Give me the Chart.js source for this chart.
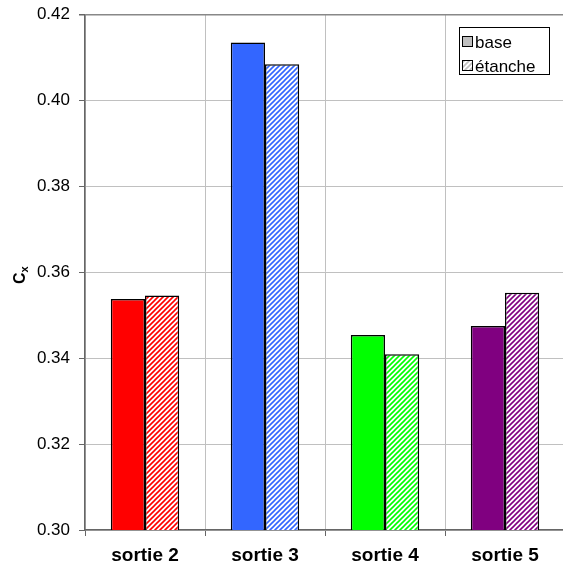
<!DOCTYPE html>
<html>
<head>
<meta charset="utf-8">
<script src="https://cdn.jsdelivr.net/npm/chart.js@4"></script>
<style>
  html, body { margin: 0; padding: 0; background: #fff; overflow: hidden; }
  #wrap { width: 563px; height: 574px; overflow: hidden; }
</style>
</head>
<body>
<div id="wrap"><canvas id="chart" width="567" height="574"></canvas></div>
<script>
// Cx per sortie, base vs étanche
const categories = ["sortie 2", "sortie 3", "sortie 4", "sortie 5"];
const baseValues = [0.3538, 0.4135, 0.3454, 0.3475];
const etancheValues = [0.3546, 0.4084, 0.3409, 0.3552];
const barColors = ["#ff0000", "#3366ff", "#00ff00", "#800080"];
const yTickLabels = ["0.30", "0.32", "0.34", "0.36", "0.38", "0.40", "0.42"];
const seriesNames = ["base", "étanche"];

const FONT = "'Liberation Sans', Arial, sans-serif";

function hatch(color) {
  const c = document.createElement("canvas");
  c.width = 5; c.height = 5;
  const g = c.getContext("2d");
  g.fillStyle = "#fff";
  g.fillRect(0, 0, 5, 5);
  g.strokeStyle = color;
  g.lineWidth = 1.6;
  g.beginPath();
  g.moveTo(-1, 6); g.lineTo(6, -1);
  g.moveTo(-1, 1); g.lineTo(1, -1);
  g.moveTo(4, 6); g.lineTo(6, 4);
  g.stroke();
  return g.createPattern(c, "repeat");
}

// legend box drawn inside the plot, top right
const boxLegend = {
  id: "boxLegend",
  afterDraw(chart) {
    const ctx = chart.ctx;
    ctx.save();
    ctx.fillStyle = "#fff";
    ctx.fillRect(459.5, 27.5, 90, 47);
    ctx.strokeStyle = "#000";
    ctx.lineWidth = 1;
    ctx.strokeRect(459.5, 27.5, 90, 47);
    const fills = ["#c0c0c0", hatch("#c0c0c0")];
    ctx.font = "17px " + FONT;
    ctx.textBaseline = "middle";
    seriesNames.forEach(function (name, i) {
      const y = 42 + i * 24;
      ctx.fillStyle = fills[i];
      ctx.fillRect(462.5, y - 5.5, 10, 10);
      ctx.strokeStyle = "#000";
      ctx.strokeRect(462.5, y - 5.5, 10, 10);
      ctx.fillStyle = "#000";
      ctx.fillText(name, 475, y + 1);
    });
    ctx.restore();
  }
};

// rotated axis title with subscript x
const yTitle = {
  id: "yTitle",
  afterDraw(chart) {
    const ctx = chart.ctx;
    ctx.save();
    ctx.translate(25, 284);
    ctx.rotate(-Math.PI / 2);
    ctx.fillStyle = "#000";
    ctx.textBaseline = "alphabetic";
    ctx.font = "bold 16px " + FONT;
    ctx.fillText("C", 0, 0);
    const w = ctx.measureText("C").width;
    ctx.font = "bold 11px " + FONT;
    ctx.fillText("x", w, 3);
    ctx.restore();
  }
};

new Chart(document.getElementById("chart"), {
  type: "bar",
  data: {
    labels: categories,
    datasets: [
      { label: seriesNames[0], data: baseValues, backgroundColor: barColors,
        borderColor: "#000", borderWidth: 1.5, borderSkipped: false },
      { label: seriesNames[1], data: etancheValues, backgroundColor: barColors.map(hatch),
        borderColor: "#000", borderWidth: 1.5, borderSkipped: false }
    ]
  },
  options: {
    responsive: false,
    animation: false,
    devicePixelRatio: 1,
    layout: { padding: { top: 14.5, right: 2, left: 0, bottom: 0 } },
    datasets: { bar: { categoryPercentage: 0.57, barPercentage: 1 } },
    plugins: { legend: { display: false }, tooltip: { enabled: false } },
    scales: {
      x: {
        offset: true,
        grid: { offset: true, color: "#c0c0c0", tickColor: "#666", tickLength: 6, lineWidth: 1 },
        border: { color: "#666", width: 1.5 },
        ticks: { color: "#000", font: { family: FONT, size: 19, weight: "bold" }, padding: 8 },
        afterFit: function (s) { s.height = 44; s.paddingLeft = 0; s.paddingRight = 0; }
      },
      y: {
        min: 0.30, max: 0.42,
        grid: {
          color: function (c) { return c.tick && c.tick.value >= 0.419 ? "#888" : "#c0c0c0"; },
          lineWidth: function (c) { return c.tick && c.tick.value >= 0.419 ? 1.5 : 1; },
          tickColor: "#666", tickLength: 6
        },
        border: { color: "#666", width: 1.5 },
        ticks: {
          stepSize: 0.02, color: "#000", padding: 9,
          font: { family: FONT, size: 17 },
          callback: function (v, i) { return yTickLabels[i]; }
        },
        afterFit: function (s) { s.width = 85; s.paddingTop = 0; s.paddingBottom = 0; }
      }
    }
  },
  plugins: [boxLegend, yTitle]
});
</script>
</body>
</html>
